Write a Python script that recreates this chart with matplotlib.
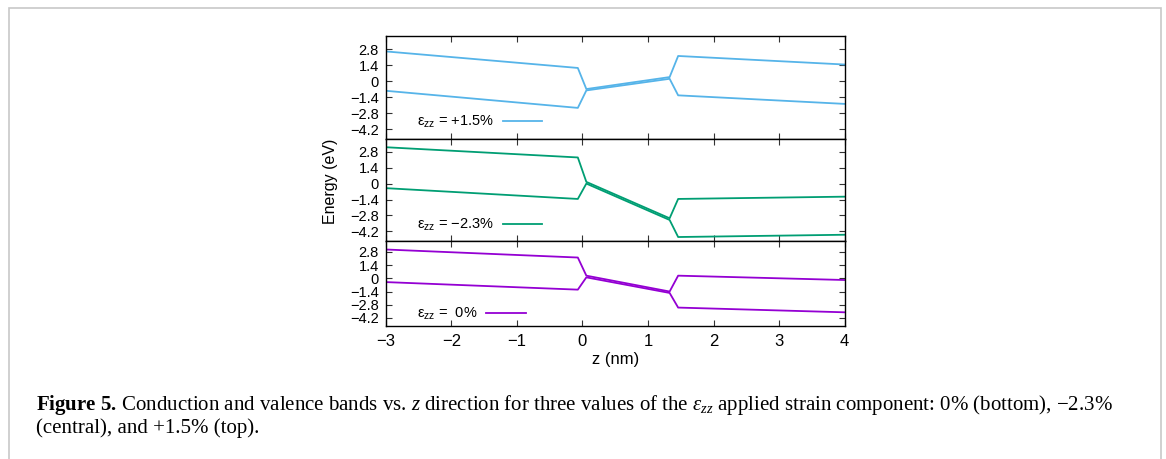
"""Band profiles along z for three strain values (three stacked panels)."""

import matplotlib
matplotlib.use("Agg")
import matplotlib.pyplot as plt
from matplotlib.patches import Rectangle

plt.rcParams["font.family"] = ["Liberation Sans", "DejaVu Sans"]
plt.rcParams["mathtext.fontset"] = "custom"
plt.rcParams["mathtext.rm"] = "Liberation Serif"
plt.rcParams["mathtext.it"] = "Liberation Serif:italic"
plt.rcParams["mathtext.bf"] = "Liberation Serif:bold"
plt.rcParams["mathtext.sf"] = "Liberation Sans"
plt.rcParams["axes.unicode_minus"] = True

# z positions of the band kinks (nm)
z_knots = [-3.0, -0.07, 0.06, 1.33, 1.46, 4.0]

# +1.5 % (top)
cb_plus = [2.6, 1.15, -0.7, 0.35, 2.2, 1.45]
vb_plus = [-0.85, -2.35, -0.82, 0.2, -1.25, -2.0]
# -2.3 % (central)
cb_minus = [3.2, 2.3, 0.15, -3.05, -1.35, -1.15]
vb_minus = [-0.4, -1.35, 0.0, -3.2, -4.7, -4.5]
# 0 % (bottom)
cb_zero = [3.05, 2.2, 0.28, -1.4, 0.28, -0.18]
vb_zero = [-0.4, -1.2, 0.1, -1.55, -3.1, -3.6]

strain_labels = ["+1.5%", "\u22122.3%", " 0%"]
colors = ["#56b4e9", "#009e73", "#9400d3"]
yticks = [2.8, 1.4, 0, -1.4, -2.8, -4.2]
xticks = [-3, -2, -1, 0, 1, 2, 3, 4]

fig = plt.figure(figsize=(11.66, 4.59), dpi=100)

# gray frame around the figure
fig.patches.append(Rectangle((9 / 1166, -0.05), 1152 / 1166, 1.05 - 8 / 459,
                             transform=fig.transFigure, fill=False,
                             edgecolor="#c8c8c8", linewidth=1.2))

left, width = 385.7 / 1166, 459 / 1166
# (top, bottom) pixel rows of each panel, and legend height in axes fraction
rows = [(36, 138.7), (138.7, 241), (241, 326)]
legend_y = [0.16, 0.155, 0.14]
series = [(cb_plus, vb_plus), (cb_minus, vb_minus), (cb_zero, vb_zero)]

axes = []
for i, ((t, b), (cb, vb)) in enumerate(zip(rows, series)):
    ax = fig.add_axes([left, 1 - b / 459, width, (b - t) / 459])
    ax.plot(z_knots, cb, color=colors[i], linewidth=1.3,
            label="\u03b5$_{\\mathsf{zz}}$ = " + strain_labels[i])
    ax.plot(z_knots, vb, color=colors[i], linewidth=1.3)
    ax.set_xlim(-3, 4)
    ax.set_ylim(-5.05, 3.95)
    ax.set_yticks(yticks)
    ax.set_yticklabels([f"{v:g}".replace("-", "\u2212") for v in yticks])
    ax.set_xticks(xticks)
    ax.tick_params(direction="in", top=True, right=True, length=4,
                   width=0.8, labelsize=10.5, pad=5,
                   colors="#333333", labelcolor="black")
    ax.tick_params(axis="x", labelsize=12, pad=6)
    if i < 2:
        ax.tick_params(axis="x", labelbottom=False)
    for s in ax.spines.values():
        s.set_linewidth(1.0)
        s.set_color("black")
    ax.legend(loc="center left", bbox_to_anchor=(0.068, legend_y[i]),
              frameon=False, markerfirst=False, handlelength=2.7,
              handletextpad=0.6, fontsize=10.5, borderaxespad=0,
              borderpad=0)
    axes.append(ax)

axes[-1].set_xlabel("z (nm)", fontsize=12, labelpad=2)
fig.text(330 / 1166, 1 - 181 / 459, "Energy (eV)", rotation=90,
         ha="center", va="center", fontsize=11.5)

cap1 = (r"$\mathbf{Figure\ 5.}\,$Conduction and valence bands vs. $z$ direction for three "
        r"values of the $\varepsilon_{zz}$ applied strain component: 0% (bottom), "
        "\u22122.3%")
cap2 = "(central), and +1.5% (top)."
fig.text(36 / 1166, 1 - 405 / 459, cap1, ha="left", va="center",
         fontsize=15.0, family="Liberation Serif")
fig.text(36 / 1166, 1 - 428 / 459, cap2, ha="left", va="center",
         fontsize=15.0, family="Liberation Serif")

fig.savefig("out.png", dpi=100)
